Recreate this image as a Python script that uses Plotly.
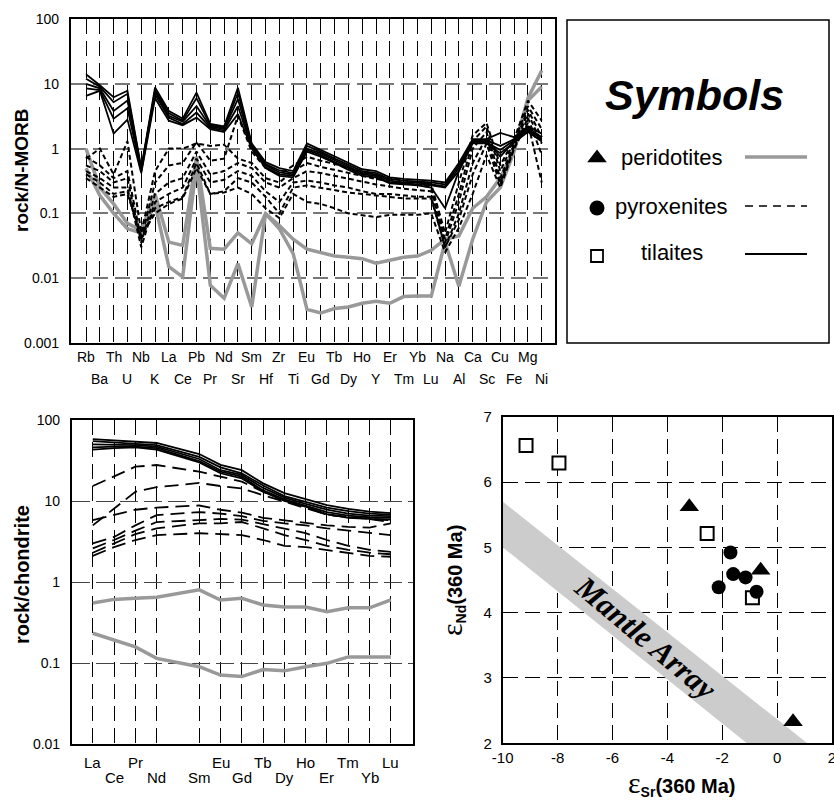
import plotly.graph_objects as go

W, H = 834, 804
def fx(px):
    return px / W
def fy(py):
    return 1 - py / H

FONT = "Liberation Sans, Arial, sans-serif"

# ---------------- Panel A: N-MORB normalised spider diagram ----------------
spider_elems = ["Rb", "Ba", "Th", "U", "Nb", "K", "La", "Ce", "Pb", "Pr", "Nd", "Sr",
                "Sm", "Hf", "Zr", "Ti", "Eu", "Gd", "Tb", "Dy", "Ho", "Y", "Er", "Tm",
                "Yb", "Lu", "Na", "Al", "Ca", "Sc", "Cu", "Fe", "Mg", "Ni"]

til_spider = [
    [14, 9.5, 6.2, 7.8, 0.50, 8.8, 3.8, 2.9, 7.3, 2.4, 2.2, 8.7, 1.20, 0.62, 0.50, 0.45, 1.20, 0.95, 0.75, 0.60, 0.48, 0.45, 0.36, 0.34, 0.33, 0.32, 0.30, 0.60, 1.40, 1.40, 1.75, 1.50, 2.20, 1.70],
    [12, 9.0, 5.2, 7.0, 0.48, 8.0, 3.5, 2.7, 6.0, 2.3, 2.1, 7.2, 1.15, 0.58, 0.46, 0.42, 1.10, 0.90, 0.70, 0.56, 0.45, 0.42, 0.34, 0.32, 0.31, 0.30, 0.28, 0.55, 1.35, 1.35, 1.10, 1.40, 2.10, 1.50],
    [10, 8.5, 3.8, 5.5, 0.46, 7.5, 3.2, 2.6, 4.5, 2.2, 2.0, 5.8, 1.10, 0.55, 0.43, 0.40, 1.00, 0.85, 0.66, 0.53, 0.42, 0.40, 0.32, 0.30, 0.30, 0.28, 0.26, 0.50, 1.30, 1.30, 0.75, 1.30, 2.00, 1.40],
    [8.5, 8.0, 2.9, 4.2, 0.44, 6.8, 3.0, 2.4, 3.6, 2.1, 1.9, 4.5, 1.05, 0.52, 0.40, 0.38, 0.95, 0.80, 0.62, 0.50, 0.40, 0.38, 0.30, 0.29, 0.28, 0.27, 0.25, 0.45, 1.25, 1.25, 0.95, 1.35, 1.90, 1.30],
    [6.5, 7.8, 1.7, 2.8, 0.42, 6.0, 2.7, 2.3, 3.0, 2.0, 1.8, 3.4, 1.00, 0.50, 0.38, 0.36, 0.90, 0.75, 0.60, 0.47, 0.38, 0.36, 0.29, 0.28, 0.27, 0.25, 0.12, 0.45, 1.20, 1.20, 0.85, 1.25, 1.80, 1.30],
]

pyx_spider = [
    [0.75, 0.55, 0.35, 0.45, 0.040, 0.30, 0.55, 0.60, 1.25, 0.65, 0.70, 3.20, 0.90, 0.50, 0.40, 0.55, 0.75, 0.65, 0.58, 0.50, 0.43, 0.38, 0.35, 0.32, 0.30, 0.28, 0.050, 0.30, 1.60, 2.50, 0.55, 1.40, 5.50, 2.70],
    [0.70, 1.00, 0.40, 1.30, 0.050, 0.45, 1.00, 1.00, 1.20, 1.10, 1.15, 0.70, 0.60, 0.35, 0.30, 0.45, 0.60, 0.52, 0.47, 0.42, 0.38, 0.34, 0.31, 0.29, 0.28, 0.25, 0.040, 0.20, 1.30, 2.20, 0.45, 1.30, 4.50, 2.00],
    [0.55, 0.45, 0.30, 0.35, 0.035, 0.20, 0.30, 0.35, 0.90, 0.40, 0.45, 0.60, 0.50, 0.30, 0.25, 0.35, 0.45, 0.42, 0.38, 0.34, 0.31, 0.28, 0.26, 0.24, 0.23, 0.22, 0.035, 0.15, 1.00, 1.80, 0.35, 1.20, 4.00, 1.50],
    [0.45, 0.35, 0.25, 0.25, 0.030, 0.15, 0.20, 0.25, 0.70, 0.30, 0.33, 0.45, 0.38, 0.22, 0.15, 0.30, 0.32, 0.30, 0.27, 0.25, 0.22, 0.20, 0.20, 0.19, 0.18, 0.18, 0.030, 0.10, 0.60, 1.50, 0.30, 1.10, 3.50, 1.20],
    [0.40, 0.30, 0.20, 0.22, 0.040, 0.12, 0.15, 0.18, 0.60, 0.20, 0.22, 0.35, 0.30, 0.18, 0.10, 0.25, 0.27, 0.25, 0.23, 0.21, 0.20, 0.19, 0.18, 0.17, 0.17, 0.17, 0.030, 0.08, 0.40, 1.20, 0.28, 1.00, 3.00, 0.80],
    [0.35, 0.25, 0.18, 0.20, 0.045, 0.10, 0.14, 0.17, 0.50, 0.20, 0.21, 0.25, 0.20, 0.12, 0.085, 0.20, 0.15, 0.14, 0.12, 0.10, 0.095, 0.088, 0.095, 0.095, 0.095, 0.10, 0.025, 0.06, 0.20, 0.80, 0.25, 1.00, 2.50, 0.30],
]

per_spider = [
    [1.00, 0.25, 0.14, 0.070, 0.055, 0.20, 0.036, 0.032, 0.75, 0.029, 0.028, 0.050, 0.034, 0.099, 0.065, 0.040, 0.028, 0.025, 0.022, 0.021, 0.020, 0.017, 0.019, 0.021, 0.022, 0.027, 0.040, 0.045, 0.12, 0.18, 0.35, 1.00, 6.0, 16.0],
    [0.50, 0.19, 0.10, 0.058, 0.050, 0.14, 0.015, 0.0105, 0.55, 0.0078, 0.0049, 0.0168, 0.0036, 0.099, 0.058, 0.024, 0.0033, 0.0029, 0.0034, 0.0036, 0.0041, 0.0044, 0.0041, 0.0052, 0.0053, 0.0053, 0.036, 0.0075, 0.040, 0.15, 0.25, 0.90, 5.5, 9.0],
]
spider_ticks = [0.001, 0.01, 0.1, 1, 10, 100]
spider_ticklabels = ["0.001", "0.01", "0.1", "1", "10", "100"]

# ---------------- Panel C: chondrite normalised REE ----------------
ree_series_full = ["La", "Ce", "Pr", "Nd", "Pm", "Sm", "Eu", "Gd", "Tb", "Dy", "Ho", "Er", "Tm", "Yb", "Lu"]
ree_elems = ["La", "Ce", "Pr", "Nd", "Sm", "Eu", "Gd", "Tb", "Dy", "Ho", "Er", "Tm", "Yb", "Lu"]

til_ree = [
    [58, 56, 54, 52, 38, 28, 24, 16.5, 12.5, 10.5, 8.9, 8.0, 7.4, 7.1],
    [55, 53, 51, 49, 35, 26, 22, 15.5, 11.5, 9.8, 8.3, 7.5, 7.0, 6.8],
    [50, 50, 49, 47, 33, 24, 21, 14.5, 11.0, 9.2, 7.8, 7.0, 6.6, 6.5],
    [46, 47, 47, 45, 31, 23, 20, 13.5, 10.5, 8.8, 7.3, 6.6, 6.3, 6.2],
    [43, 45, 46, 43, 30, 22, 19, 13.0, 10.0, 8.5, 6.9, 6.2, 6.0, 5.9],
]
pyx_ree = [
    [15.3, 20.0, 26.5, 27.8, 23.0, 20.0, 17.3, 13.0, 10.2, 8.5, 6.7, 6.4, 6.0, 5.8],
    [5.0, 8.1, 13.0, 14.8, 16.7, 15.3, 14.3, 11.8, 9.8, 8.1, 6.8, 6.3, 6.0, 5.5],
    [5.8, 6.7, 7.8, 8.3, 8.8, 7.8, 7.2, 6.2, 5.8, 5.4, 5.0, 4.8, 4.7, 5.3],
    [3.0, 3.6, 5.0, 6.7, 7.3, 7.0, 6.5, 5.7, 5.3, 5.0, 4.6, 4.3, 4.1, 3.8],
    [2.6, 3.3, 4.3, 5.5, 5.8, 6.0, 5.9, 5.2, 4.5, 4.0, 3.3, 2.8, 2.5, 2.35],
    [2.3, 3.0, 3.9, 4.6, 5.3, 5.3, 5.5, 4.6, 3.8, 3.3, 2.8, 2.5, 2.3, 2.2],
    [2.1, 2.7, 3.3, 3.8, 4.0, 3.9, 3.8, 3.3, 2.8, 2.7, 2.5, 2.3, 2.1, 2.05],
]
per_ree = [
    [0.55, 0.61, 0.63, 0.65, 0.80, 0.60, 0.63, 0.52, 0.49, 0.49, 0.43, 0.48, 0.48, 0.60],
    [0.233, 0.19, 0.158, 0.114, 0.090, 0.071, 0.068, 0.083, 0.080, 0.090, 0.099, 0.119, 0.119, 0.119],
]
ree_ticks = [0.01, 0.1, 1, 10, 100]
ree_ticklabels = ["0.01", "0.1", "1", "10", "100"]

# ---------------- Panel D: eNd vs eSr ----------------
til_esr = [-9.15, -7.95, -2.55, -0.90]
til_end = [6.56, 6.29, 5.21, 4.23]
per_esr = [-3.20, -0.60, 0.58]
per_end = [5.62, 4.65, 2.33]
pyx_esr = [-1.70, -1.60, -1.15, -2.13, -0.75]
pyx_end = [4.92, 4.59, 4.54, 4.39, 4.32]
mantle_esr = [-10.0, 1.1, -1.1, -10.0]
mantle_end = [5.70, 2.0, 2.0, 5.00]
iso_xticks = [-10, -8, -6, -4, -2, 0, 2]
iso_xticklabels = ["-10", "-8", "-6", "-4", "-2", "0", "2"]
iso_yticks = [2, 3, 4, 5, 6, 7]

GRAY = "#999999"

fig = go.Figure()

# Panel A traces
xa = list(range(len(spider_elems)))
for v in per_spider:
    fig.add_trace(go.Scatter(x=xa, y=v, mode="lines", line=dict(color=GRAY, width=3.5),
                             xaxis="x", yaxis="y", showlegend=False, hoverinfo="skip"))
for v in pyx_spider:
    fig.add_trace(go.Scatter(x=xa, y=v, mode="lines", line=dict(color="black", width=2, dash="5px,3px"),
                             xaxis="x", yaxis="y", showlegend=False, hoverinfo="skip"))
for v in til_spider:
    fig.add_trace(go.Scatter(x=xa, y=v, mode="lines", line=dict(color="black", width=1.8),
                             xaxis="x", yaxis="y", showlegend=False, hoverinfo="skip"))

# Panel C traces
xr = [ree_series_full.index(e) for e in ree_elems]
for v in per_ree:
    fig.add_trace(go.Scatter(x=xr, y=v, mode="lines", line=dict(color=GRAY, width=3.5),
                             xaxis="x2", yaxis="y2", showlegend=False, hoverinfo="skip"))
for v in pyx_ree:
    fig.add_trace(go.Scatter(x=xr, y=v, mode="lines", line=dict(color="black", width=1.8, dash="14px,7px"),
                             xaxis="x2", yaxis="y2", showlegend=False, hoverinfo="skip"))
for v in til_ree:
    fig.add_trace(go.Scatter(x=xr, y=v, mode="lines", line=dict(color="black", width=1.8),
                             xaxis="x2", yaxis="y2", showlegend=False, hoverinfo="skip"))

# Panel D traces
fig.add_trace(go.Scatter(x=mantle_esr, y=mantle_end, mode="lines", fill="toself",
                         fillcolor="#cccccc", line=dict(width=0, color="#cccccc"),
                         xaxis="x3", yaxis="y3", showlegend=False, hoverinfo="skip"))
fig.add_trace(go.Scatter(x=til_esr, y=til_end, mode="markers",
                         marker=dict(symbol="square", size=13, color="white", line=dict(color="black", width=2)),
                         xaxis="x3", yaxis="y3", showlegend=False))
fig.add_trace(go.Scatter(x=per_esr, y=per_end, mode="markers",
                         marker=dict(symbol="triangle-up", size=17, color="black"),
                         xaxis="x3", yaxis="y3", showlegend=False))
fig.add_trace(go.Scatter(x=pyx_esr, y=pyx_end, mode="markers",
                         marker=dict(symbol="circle", size=14, color="black"),
                         xaxis="x3", yaxis="y3", showlegend=False))

# Legend panel (pixel coordinate overlay axes)
LX0, LX1, LY0, LY1 = 567, 829, 20, 343
leg_rows = [("peridotites", "triangle-up", 158, 157, dict(color=GRAY, width=3.5), "black", 17),
            ("pyroxenites", "circle", 208, 206, dict(color="black", width=1.5, dash="8px,6px"), "black", 15),
            ("tilaites", "square", 256, 254, dict(color="black", width=1.8), "white", 12)]
for name, sym, my, ly, lsty, mcol, msize in leg_rows:
    fig.add_trace(go.Scatter(x=[597], y=[my], mode="markers",
                             marker=dict(symbol=sym, size=msize, color=mcol,
                                         line=dict(color="black", width=1.8 if sym == "square" else 0)),
                             xaxis="x4", yaxis="y4", showlegend=False, hoverinfo="skip"))
    fig.add_trace(go.Scatter(x=[745, 807], y=[ly, ly], mode="lines", line=lsty,
                             xaxis="x4", yaxis="y4", showlegend=False, hoverinfo="skip"))

annotations = []
leg_text_x = {"peridotites": 672, "pyroxenites": 671, "tilaites": 672}
leg_text_y = {"peridotites": 157, "pyroxenites": 206, "tilaites": 252}
for name, *_ in leg_rows:
    annotations.append(dict(x=leg_text_x[name], y=leg_text_y[name], xref="x4", yref="y4", text=name,
                            showarrow=False, font=dict(family=FONT, size=22, color="black"),
                            xanchor="center", yanchor="middle"))
annotations.append(dict(x=694, y=95, xref="x4", yref="y4", text="<b><i>Symbols</i></b>", showarrow=False,
                        font=dict(family=FONT, size=43, color="black"), xanchor="center", yanchor="middle"))

# Panel A x labels (two staggered rows)
for i, e in enumerate(spider_elems):
    annotations.append(dict(x=i, y=fy(357 if i % 2 == 0 else 379), xref="x", yref="paper", text=e,
                            showarrow=False, font=dict(family=FONT, size=14, color="black"),
                            xanchor="center", yanchor="middle"))
# Panel C x labels
for e in ree_elems:
    p = ree_series_full.index(e)
    annotations.append(dict(x=p, y=fy(762 if p % 2 == 0 else 777), xref="x2", yref="paper", text=e,
                            showarrow=False, font=dict(family=FONT, size=15, color="black"),
                            xanchor="center", yanchor="middle"))

# Axis titles
annotations.append(dict(x=fx(22), y=fy(170), xref="paper", yref="paper", text="<b>rock/N-MORB</b>",
                        textangle=-90, showarrow=False, font=dict(family=FONT, size=19, color="black"),
                        xanchor="center", yanchor="middle"))
annotations.append(dict(x=fx(22), y=fy(575), xref="paper", yref="paper", text="<b>rock/chondrite</b>",
                        textangle=-90, showarrow=False, font=dict(family=FONT, size=20, color="black"),
                        xanchor="center", yanchor="middle"))
annotations.append(dict(x=fx(452), y=fy(580), xref="paper", yref="paper",
                        text="<span style='font-family:Liberation Serif;font-size:30px'>ε</span><b><sub>Nd</sub>(360 Ma)</b>",
                        textangle=-90, showarrow=False, font=dict(family=FONT, size=20, color="black"),
                        xanchor="center", yanchor="middle"))
annotations.append(dict(x=fx(681), y=fy(783), xref="paper", yref="paper",
                        text="<span style='font-family:Liberation Serif;font-size:30px'>ε</span><b><sub>Sr</sub>(360 Ma)</b>",
                        showarrow=False, font=dict(family=FONT, size=20, color="black"),
                        xanchor="center", yanchor="middle"))
annotations.append(dict(x=-4.8, y=3.62, xref="x3", yref="y3", text="<b><i>Mantle Array</i></b>",
                        textangle=40, showarrow=False, xanchor="center", yanchor="middle",
                        font=dict(family="Liberation Serif, Times New Roman, serif", size=31, color="black")))

def ax(**kw):
    base = dict(showline=True, mirror=True, linecolor="black", linewidth=1.5, ticks="",
                zeroline=False, automargin=False, tickfont=dict(family=FONT, size=14, color="black"))
    base.update(kw)
    return base

fig.update_layout(
    width=W, height=H, margin=dict(l=0, r=0, t=0, b=0, autoexpand=False),
    paper_bgcolor="white", plot_bgcolor="white", showlegend=False,
    xaxis=ax(domain=[fx(70.7), fx(555)], range=[-1.108, 33.96], tickvals=xa, showticklabels=False,
             showgrid=True, gridcolor="black", gridwidth=1, griddash="15px,7px", anchor="y"),
    yaxis=ax(domain=[fy(343), fy(19)], type="log", range=[-3, 2], tickvals=spider_ticks,
             ticktext=spider_ticklabels, showgrid=True, gridcolor="#777777", gridwidth=1.5,
             griddash="15px,7px", anchor="x", ticklabelstandoff=7),
    xaxis2=ax(domain=[fx(71.7), fx(413)], range=[-0.99, 15.04], tickvals=xr, showticklabels=False,
              showgrid=True, gridcolor="black", gridwidth=1, griddash="15px,7px", anchor="y2"),
    yaxis2=ax(domain=[fy(744), fy(420)], type="log", range=[-2, 2], tickvals=ree_ticks,
              ticktext=ree_ticklabels, showgrid=True, gridcolor="#444444", gridwidth=1,
              griddash="18px,6px", anchor="x2", ticklabelstandoff=7),
    xaxis3=ax(domain=[fx(502.7), fx(832)], range=[-10, 2], tickvals=iso_xticks, ticktext=iso_xticklabels,
              showgrid=True, gridcolor="black", gridwidth=1, griddash="15px,7px", anchor="y3",
              ticklabelstandoff=0, ticklabeloverflow="allow",
              tickfont=dict(family=FONT, size=15, color="black")),
    yaxis3=ax(domain=[fy(743.3), fy(416.7)], range=[2, 7], tickvals=iso_yticks,
              showgrid=True, gridcolor="black", gridwidth=1, griddash="15px,7px", anchor="x3",
              ticklabelstandoff=6, tickfont=dict(family=FONT, size=15, color="black")),
    xaxis4=dict(domain=[fx(LX0), fx(LX1)], range=[LX0, LX1], visible=False, anchor="y4"),
    yaxis4=dict(domain=[fy(LY1), fy(LY0)], range=[LY1, LY0], visible=False, anchor="x4"),
    annotations=annotations,
    shapes=[dict(type="rect", xref="paper", yref="paper", x0=fx(LX0), x1=fx(LX1), y0=fy(LY1), y1=fy(LY0),
                 line=dict(color="black", width=1.5))],
)

fig.write_html("out.html", config={"displayModeBar": False},
               post_script="document.body.style.margin='0';document.body.style.overflow='hidden';")
